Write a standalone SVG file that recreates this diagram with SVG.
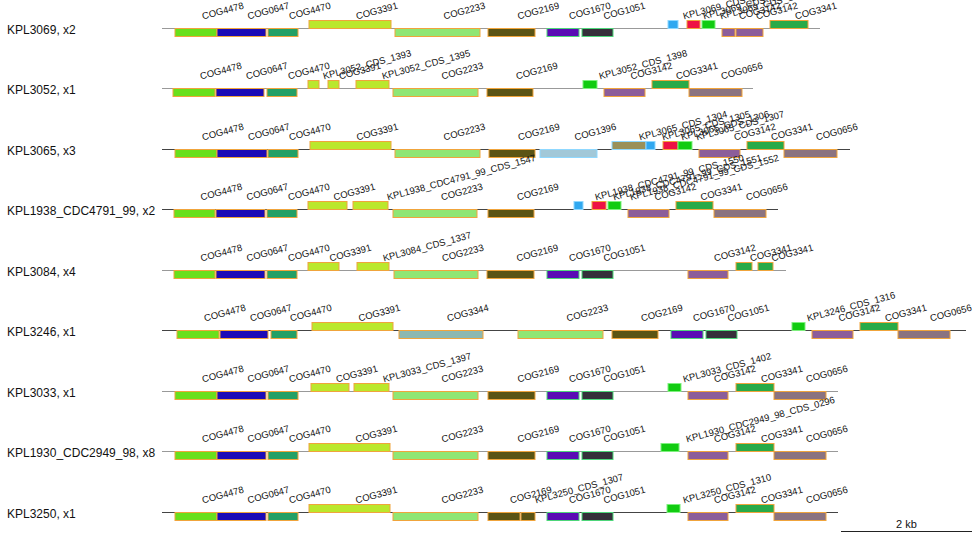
<svg xmlns="http://www.w3.org/2000/svg" width="980" height="540" viewBox="0 0 980 540">
<style>
text{font-family:"Liberation Sans",Arial,sans-serif;fill:#111}
.rl{font-size:12px}
.gl{font-size:9.5px}
.sc{font-size:11px}
rect{stroke-width:1}
.ln{stroke-width:1;fill:none}
.lg{stroke:#999}
.ld{stroke:#444}
.c4478{fill:#68e01c;stroke:#f0a43c}
.c0647{fill:#1b0ab6;stroke:#f0a43c}
.c4470{fill:#22a066;stroke:#f0a43c}
.c3391{fill:#bae82c;stroke:#f0a43c}
.c2233{fill:#8fe674;stroke:#f0a43c}
.c2169{fill:#5b5414;stroke:#f0a43c}
.c1670{fill:#5a0cb4;stroke:#4ed67a}
.c1051{fill:#352f3a;stroke:#4ed67a}
.c3142{fill:#8c5d9a;stroke:#f0a43c}
.c3341{fill:#28aa48;stroke:#f0a43c}
.c0656{fill:#8b7380;stroke:#f0a43c}
.c3344{fill:#8cb8b0;stroke:#f0a43c}
.c1396{fill:#a2c8d8;stroke:#8fd8ff}
.khk{fill:#9a9058;stroke:#8fd8ff}
.blu{fill:#30a8f0;stroke:#8fd8ff}
.red{fill:#ee1144;stroke:#f0a43c}
.grn{fill:#11cc11;stroke:#7ef07e}
</style>

<g id="connectors">
<line class="ln lg" x1="162" y1="28.5" x2="820" y2="28.5"/>
<line class="ln lg" x1="162" y1="88.5" x2="753" y2="88.5"/>
<line class="ln ld" x1="162" y1="149.5" x2="850" y2="149.5"/>
<line class="ln ld" x1="162" y1="209.5" x2="778" y2="209.5"/>
<line class="ln lg" x1="162" y1="270.5" x2="786" y2="270.5"/>
<line class="ln ld" x1="162" y1="330.5" x2="966" y2="330.5"/>
<line class="ln lg" x1="162" y1="391.5" x2="838" y2="391.5"/>
<line class="ln lg" x1="162" y1="451.5" x2="838" y2="451.5"/>
<line class="ln ld" x1="162" y1="512.5" x2="838" y2="512.5"/>
</g>

<g id="row1">
<text class="rl" x="7" y="34">KPL3069, x2</text>
<g id="r1g1"><rect class="c4478" x="175" y="28.5" width="42" height="8"/><text class="gl" x="203" y="19.5" transform="rotate(-15 203 19.5)">COG4478</text></g>
<g id="r1g2"><rect class="c0647" x="217" y="28.5" width="49" height="8"/><text class="gl" x="248.5" y="19.5" transform="rotate(-15 248.5 19.5)">COG0647</text></g>
<g id="r1g3"><rect class="c4470" x="268" y="28.5" width="30" height="8"/><text class="gl" x="290" y="19.5" transform="rotate(-15 290 19.5)">COG4470</text></g>
<g id="r1g4"><rect class="c3391" x="309" y="20.5" width="82" height="8"/><text class="gl" x="357" y="19.5" transform="rotate(-15 357 19.5)">COG3391</text></g>
<g id="r1g5"><rect class="c2233" x="395" y="28.5" width="85" height="8"/><text class="gl" x="444.5" y="19.5" transform="rotate(-15 444.5 19.5)">COG2233</text></g>
<g id="r1g6"><rect class="c2169" x="488" y="28.5" width="47" height="8"/><text class="gl" x="518.5" y="19.5" transform="rotate(-15 518.5 19.5)">COG2169</text></g>
<g id="r1g7"><rect class="c1670" x="547" y="28.5" width="32" height="8"/><text class="gl" x="570" y="19.5" transform="rotate(-15 570 19.5)">COG1670</text></g>
<g id="r1g8"><rect class="c1051" x="582" y="28.5" width="31" height="8"/><text class="gl" x="604.5" y="19.5" transform="rotate(-15 604.5 19.5)">COG1051</text></g>
<g id="r1g9"><rect class="blu" x="668" y="20.5" width="10" height="8"/><text class="gl" x="684" y="19.5" transform="rotate(-15 684 19.5)">KPL3069_CDS_1325</text></g>
<g id="r1g10"><rect class="red" x="687" y="20.5" width="13" height="8"/><text class="gl" x="704" y="19.5" transform="rotate(-15 704 19.5)">KPL3069_CDS_1326</text></g>
<g id="r1g11"><rect class="grn" x="702" y="20.5" width="13" height="8"/><text class="gl" x="721" y="19.5" transform="rotate(-15 721 19.5)">KPL3069_CDS_1327</text></g>
<g id="r1g12"><rect class="c3142" x="722" y="28.5" width="13" height="8"/><text class="gl" x="740" y="19.5" transform="rotate(-15 740 19.5)">COG3142</text></g>
<g id="r1g13"><rect class="c3142" x="736" y="28.5" width="27" height="8"/><text class="gl" x="757" y="19.5" transform="rotate(-15 757 19.5)">COG3142</text></g>
<g id="r1g14"><rect class="c3341" x="770" y="20.5" width="38" height="8"/><text class="gl" x="796" y="19.5" transform="rotate(-15 796 19.5)">COG3341</text></g>
</g>

<g id="row2">
<text class="rl" x="7" y="94">KPL3052, x1</text>
<g id="r2g1"><rect class="c4478" x="173" y="88.5" width="42" height="8"/><text class="gl" x="201" y="79.5" transform="rotate(-15 201 79.5)">COG4478</text></g>
<g id="r2g2"><rect class="c0647" x="216" y="88.5" width="48" height="8"/><text class="gl" x="247" y="79.5" transform="rotate(-15 247 79.5)">COG0647</text></g>
<g id="r2g3"><rect class="c4470" x="267" y="88.5" width="30" height="8"/><text class="gl" x="289" y="79.5" transform="rotate(-15 289 79.5)">COG4470</text></g>
<g id="r2g4"><rect class="c3391" x="308" y="80.5" width="11" height="8"/><text class="gl" x="324" y="79.5" transform="rotate(-15 324 79.5)">KPL3052_CDS_1393</text></g>
<g id="r2g5"><rect class="c3391" x="328" y="80.5" width="11" height="8"/><text class="gl" x="340" y="79.5" transform="rotate(-15 340 79.5)">COG3391</text></g>
<g id="r2g6"><rect class="c3391" x="356" y="80.5" width="33" height="8"/><text class="gl" x="383" y="79.5" transform="rotate(-15 383 79.5)">KPL3052_CDS_1395</text></g>
<g id="r2g7"><rect class="c2233" x="393" y="88.5" width="85" height="8"/><text class="gl" x="442.5" y="79.5" transform="rotate(-15 442.5 79.5)">COG2233</text></g>
<g id="r2g8"><rect class="c2169" x="487" y="88.5" width="46" height="8"/><text class="gl" x="517" y="79.5" transform="rotate(-15 517 79.5)">COG2169</text></g>
<g id="r2g9"><rect class="grn" x="583" y="80.5" width="14" height="8"/><text class="gl" x="600" y="79.5" transform="rotate(-15 600 79.5)">KPL3052_CDS_1398</text></g>
<g id="r2g10"><rect class="c3142" x="604" y="88.5" width="41" height="8"/><text class="gl" x="631.5" y="79.5" transform="rotate(-15 631.5 79.5)">COG3142</text></g>
<g id="r2g11"><rect class="c3341" x="652" y="80.5" width="37" height="8"/><text class="gl" x="677" y="79.5" transform="rotate(-15 677 79.5)">COG3341</text></g>
<g id="r2g12"><rect class="c0656" x="689" y="88.5" width="53" height="8"/><text class="gl" x="722" y="79.5" transform="rotate(-15 722 79.5)">COG0656</text></g>
</g>

<g id="row3">
<text class="rl" x="7" y="155">KPL3065, x3</text>
<g id="r3g1"><rect class="c4478" x="175" y="149.5" width="42" height="8"/><text class="gl" x="203" y="140.5" transform="rotate(-15 203 140.5)">COG4478</text></g>
<g id="r3g2"><rect class="c0647" x="217" y="149.5" width="50" height="8"/><text class="gl" x="249" y="140.5" transform="rotate(-15 249 140.5)">COG0647</text></g>
<g id="r3g3"><rect class="c4470" x="268" y="149.5" width="30" height="8"/><text class="gl" x="290" y="140.5" transform="rotate(-15 290 140.5)">COG4470</text></g>
<g id="r3g4"><rect class="c3391" x="310" y="141.5" width="81" height="8"/><text class="gl" x="357.5" y="140.5" transform="rotate(-15 357.5 140.5)">COG3391</text></g>
<g id="r3g5"><rect class="c2233" x="395" y="149.5" width="85" height="8"/><text class="gl" x="444.5" y="140.5" transform="rotate(-15 444.5 140.5)">COG2233</text></g>
<g id="r3g6"><rect class="c2169" x="489" y="149.5" width="46" height="8"/><text class="gl" x="519" y="140.5" transform="rotate(-15 519 140.5)">COG2169</text></g>
<g id="r3g7"><rect class="c1396" x="540" y="149.5" width="57" height="8"/><text class="gl" x="575.5" y="140.5" transform="rotate(-15 575.5 140.5)">COG1396</text></g>
<g id="r3g8"><rect class="khk" x="612" y="141.5" width="34" height="8"/><text class="gl" x="640" y="140.5" transform="rotate(-15 640 140.5)">KPL3065_CDS_1304</text></g>
<g id="r3g9"><rect class="blu" x="646" y="141.5" width="9" height="8"/><text class="gl" x="663" y="140.5" transform="rotate(-15 663 140.5)">KPL3065_CDS_1305</text></g>
<g id="r3g10"><rect class="red" x="663" y="141.5" width="15" height="8"/><text class="gl" x="682" y="140.5" transform="rotate(-15 682 140.5)">KPL3065_CDS_1306</text></g>
<g id="r3g11"><rect class="grn" x="678" y="141.5" width="14" height="8"/><text class="gl" x="697" y="140.5" transform="rotate(-15 697 140.5)">KPL3065_CDS_1307</text></g>
<g id="r3g12"><rect class="c3142" x="699" y="149.5" width="41" height="8"/><text class="gl" x="735" y="140.5" transform="rotate(-15 735 140.5)">COG3142</text></g>
<g id="r3g13"><rect class="c3341" x="747" y="141.5" width="37" height="8"/><text class="gl" x="772" y="140.5" transform="rotate(-15 772 140.5)">COG3341</text></g>
<g id="r3g14"><rect class="c0656" x="784" y="149.5" width="53" height="8"/><text class="gl" x="817" y="140.5" transform="rotate(-15 817 140.5)">COG0656</text></g>
</g>

<g id="row4">
<text class="rl" x="7" y="215">KPL1938_CDC4791_99, x2</text>
<g id="r4g1"><rect class="c4478" x="174" y="209.5" width="41" height="8"/><text class="gl" x="201.5" y="200.5" transform="rotate(-15 201.5 200.5)">COG4478</text></g>
<g id="r4g2"><rect class="c0647" x="216" y="209.5" width="49" height="8"/><text class="gl" x="247.5" y="200.5" transform="rotate(-15 247.5 200.5)">COG0647</text></g>
<g id="r4g3"><rect class="c4470" x="267" y="209.5" width="30" height="8"/><text class="gl" x="289" y="200.5" transform="rotate(-15 289 200.5)">COG4470</text></g>
<g id="r4g4"><rect class="c3391" x="308" y="201.5" width="39" height="8"/><text class="gl" x="334.5" y="200.5" transform="rotate(-15 334.5 200.5)">COG3391</text></g>
<g id="r4g5"><rect class="c3391" x="353" y="201.5" width="35" height="8"/><text class="gl" x="388" y="200.5" transform="rotate(-15 388 200.5)">KPL1938_CDC4791_99_CDS_1547</text></g>
<g id="r4g6"><rect class="c2233" x="393" y="209.5" width="84" height="8"/><text class="gl" x="442" y="200.5" transform="rotate(-15 442 200.5)">COG2233</text></g>
<g id="r4g7"><rect class="c2169" x="488" y="209.5" width="46" height="8"/><text class="gl" x="518" y="200.5" transform="rotate(-15 518 200.5)">COG2169</text></g>
<g id="r4g8"><rect class="blu" x="574" y="201.5" width="9" height="8"/><text class="gl" x="596" y="200.5" transform="rotate(-15 596 200.5)">KPL1938_CDC4791_99_CDS_1550</text></g>
<g id="r4g9"><rect class="red" x="592" y="201.5" width="14" height="8"/><text class="gl" x="614" y="200.5" transform="rotate(-15 614 200.5)">KPL1938_CDC4791_99_CDS_1551</text></g>
<g id="r4g10"><rect class="grn" x="608" y="201.5" width="13" height="8"/><text class="gl" x="631" y="200.5" transform="rotate(-15 631 200.5)">KPL1938_CDC4791_99_CDS_1552</text></g>
<g id="r4g11"><rect class="c3142" x="628" y="209.5" width="41" height="8"/><text class="gl" x="655.5" y="200.5" transform="rotate(-15 655.5 200.5)">COG3142</text></g>
<g id="r4g12"><rect class="c3341" x="676" y="201.5" width="37" height="8"/><text class="gl" x="701.5" y="200.5" transform="rotate(-15 701.5 200.5)">COG3341</text></g>
<g id="r4g13"><rect class="c0656" x="714" y="209.5" width="52" height="8"/><text class="gl" x="747" y="200.5" transform="rotate(-15 747 200.5)">COG0656</text></g>
</g>

<g id="row5">
<text class="rl" x="7" y="276">KPL3084, x4</text>
<g id="r5g1"><rect class="c4478" x="174" y="270.5" width="41" height="8"/><text class="gl" x="201.5" y="261.5" transform="rotate(-15 201.5 261.5)">COG4478</text></g>
<g id="r5g2"><rect class="c0647" x="216" y="270.5" width="49" height="8"/><text class="gl" x="247.5" y="261.5" transform="rotate(-15 247.5 261.5)">COG0647</text></g>
<g id="r5g3"><rect class="c4470" x="267" y="270.5" width="30" height="8"/><text class="gl" x="289" y="261.5" transform="rotate(-15 289 261.5)">COG4470</text></g>
<g id="r5g4"><rect class="c3391" x="308" y="262.5" width="31" height="8"/><text class="gl" x="330.5" y="261.5" transform="rotate(-15 330.5 261.5)">COG3391</text></g>
<g id="r5g5"><rect class="c3391" x="357" y="262.5" width="32" height="8"/><text class="gl" x="384" y="261.5" transform="rotate(-15 384 261.5)">KPL3084_CDS_1337</text></g>
<g id="r5g6"><rect class="c2233" x="394" y="270.5" width="84" height="8"/><text class="gl" x="443" y="261.5" transform="rotate(-15 443 261.5)">COG2233</text></g>
<g id="r5g7"><rect class="c2169" x="487" y="270.5" width="47" height="8"/><text class="gl" x="517.5" y="261.5" transform="rotate(-15 517.5 261.5)">COG2169</text></g>
<g id="r5g8"><rect class="c1670" x="547" y="270.5" width="32" height="8"/><text class="gl" x="570" y="261.5" transform="rotate(-15 570 261.5)">COG1670</text></g>
<g id="r5g9"><rect class="c1051" x="582" y="270.5" width="31" height="8"/><text class="gl" x="604.5" y="261.5" transform="rotate(-15 604.5 261.5)">COG1051</text></g>
<g id="r5g10"><rect class="c3142" x="688" y="270.5" width="40" height="8"/><text class="gl" x="715" y="261.5" transform="rotate(-15 715 261.5)">COG3142</text></g>
<g id="r5g11"><rect class="c3341" x="736" y="262.5" width="16" height="8"/><text class="gl" x="751" y="261.5" transform="rotate(-15 751 261.5)">COG3341</text></g>
<g id="r5g12"><rect class="c3341" x="758" y="262.5" width="15" height="8"/><text class="gl" x="772.5" y="261.5" transform="rotate(-15 772.5 261.5)">COG3341</text></g>
</g>

<g id="row6">
<text class="rl" x="7" y="336">KPL3246, x1</text>
<g id="r6g1"><rect class="c4478" x="177" y="330.5" width="42" height="8"/><text class="gl" x="205" y="321.5" transform="rotate(-15 205 321.5)">COG4478</text></g>
<g id="r6g2"><rect class="c0647" x="220" y="330.5" width="48" height="8"/><text class="gl" x="251" y="321.5" transform="rotate(-15 251 321.5)">COG0647</text></g>
<g id="r6g3"><rect class="c4470" x="271" y="330.5" width="26" height="8"/><text class="gl" x="291" y="321.5" transform="rotate(-15 291 321.5)">COG4470</text></g>
<g id="r6g4"><rect class="c3391" x="312" y="322.5" width="81" height="8"/><text class="gl" x="359.5" y="321.5" transform="rotate(-15 359.5 321.5)">COG3391</text></g>
<g id="r6g5"><rect class="c3344" x="399" y="330.5" width="84" height="8"/><text class="gl" x="448" y="321.5" transform="rotate(-15 448 321.5)">COG3344</text></g>
<g id="r6g6"><rect class="c2233" x="518" y="330.5" width="85" height="8"/><text class="gl" x="567.5" y="321.5" transform="rotate(-15 567.5 321.5)">COG2233</text></g>
<g id="r6g7"><rect class="c2169" x="612" y="330.5" width="46" height="8"/><text class="gl" x="642" y="321.5" transform="rotate(-15 642 321.5)">COG2169</text></g>
<g id="r6g8"><rect class="c1670" x="671" y="330.5" width="32" height="8"/><text class="gl" x="694" y="321.5" transform="rotate(-15 694 321.5)">COG1670</text></g>
<g id="r6g9"><rect class="c1051" x="706" y="330.5" width="31" height="8"/><text class="gl" x="728.5" y="321.5" transform="rotate(-15 728.5 321.5)">COG1051</text></g>
<g id="r6g10"><rect class="grn" x="792" y="322.5" width="13" height="8"/><text class="gl" x="808" y="321.5" transform="rotate(-15 808 321.5)">KPL3246_CDS_1316</text></g>
<g id="r6g11"><rect class="c3142" x="812" y="330.5" width="41" height="8"/><text class="gl" x="839.5" y="321.5" transform="rotate(-15 839.5 321.5)">COG3142</text></g>
<g id="r6g12"><rect class="c3341" x="860" y="322.5" width="38" height="8"/><text class="gl" x="886" y="321.5" transform="rotate(-15 886 321.5)">COG3341</text></g>
<g id="r6g13"><rect class="c0656" x="898" y="330.5" width="52" height="8"/><text class="gl" x="931" y="321.5" transform="rotate(-15 931 321.5)">COG0656</text></g>
</g>

<g id="row7">
<text class="rl" x="7" y="397">KPL3033, x1</text>
<g id="r7g1"><rect class="c4478" x="175" y="391.5" width="42" height="8"/><text class="gl" x="203" y="382.5" transform="rotate(-15 203 382.5)">COG4478</text></g>
<g id="r7g2"><rect class="c0647" x="217" y="391.5" width="49" height="8"/><text class="gl" x="248.5" y="382.5" transform="rotate(-15 248.5 382.5)">COG0647</text></g>
<g id="r7g3"><rect class="c4470" x="268" y="391.5" width="30" height="8"/><text class="gl" x="290" y="382.5" transform="rotate(-15 290 382.5)">COG4470</text></g>
<g id="r7g4"><rect class="c3391" x="311" y="383.5" width="38" height="8"/><text class="gl" x="337" y="382.5" transform="rotate(-15 337 382.5)">COG3391</text></g>
<g id="r7g5"><rect class="c3391" x="354" y="383.5" width="35" height="8"/><text class="gl" x="384" y="382.5" transform="rotate(-15 384 382.5)">KPL3033_CDS_1397</text></g>
<g id="r7g6"><rect class="c2233" x="393" y="391.5" width="85" height="8"/><text class="gl" x="442.5" y="382.5" transform="rotate(-15 442.5 382.5)">COG2233</text></g>
<g id="r7g7"><rect class="c2169" x="488" y="391.5" width="47" height="8"/><text class="gl" x="518.5" y="382.5" transform="rotate(-15 518.5 382.5)">COG2169</text></g>
<g id="r7g8"><rect class="c1670" x="547" y="391.5" width="32" height="8"/><text class="gl" x="570" y="382.5" transform="rotate(-15 570 382.5)">COG1670</text></g>
<g id="r7g9"><rect class="c1051" x="582" y="391.5" width="31" height="8"/><text class="gl" x="604.5" y="382.5" transform="rotate(-15 604.5 382.5)">COG1051</text></g>
<g id="r7g10"><rect class="grn" x="668" y="383.5" width="13" height="8"/><text class="gl" x="684" y="382.5" transform="rotate(-15 684 382.5)">KPL3033_CDS_1402</text></g>
<g id="r7g11"><rect class="c3142" x="688" y="391.5" width="40" height="8"/><text class="gl" x="715" y="382.5" transform="rotate(-15 715 382.5)">COG3142</text></g>
<g id="r7g12"><rect class="c3341" x="736" y="383.5" width="38" height="8"/><text class="gl" x="762" y="382.5" transform="rotate(-15 762 382.5)">COG3341</text></g>
<g id="r7g13"><rect class="c0656" x="774" y="391.5" width="52" height="8"/><text class="gl" x="807" y="382.5" transform="rotate(-15 807 382.5)">COG0656</text></g>
</g>

<g id="row8">
<text class="rl" x="7" y="457">KPL1930_CDC2949_98, x8</text>
<g id="r8g1"><rect class="c4478" x="175" y="451.5" width="42" height="8"/><text class="gl" x="203" y="442.5" transform="rotate(-15 203 442.5)">COG4478</text></g>
<g id="r8g2"><rect class="c0647" x="217" y="451.5" width="49" height="8"/><text class="gl" x="248.5" y="442.5" transform="rotate(-15 248.5 442.5)">COG0647</text></g>
<g id="r8g3"><rect class="c4470" x="268" y="451.5" width="30" height="8"/><text class="gl" x="290" y="442.5" transform="rotate(-15 290 442.5)">COG4470</text></g>
<g id="r8g4"><rect class="c3391" x="309" y="443.5" width="81" height="8"/><text class="gl" x="356.5" y="442.5" transform="rotate(-15 356.5 442.5)">COG3391</text></g>
<g id="r8g5"><rect class="c2233" x="393" y="451.5" width="85" height="8"/><text class="gl" x="442.5" y="442.5" transform="rotate(-15 442.5 442.5)">COG2233</text></g>
<g id="r8g6"><rect class="c2169" x="488" y="451.5" width="47" height="8"/><text class="gl" x="518.5" y="442.5" transform="rotate(-15 518.5 442.5)">COG2169</text></g>
<g id="r8g7"><rect class="c1670" x="547" y="451.5" width="32" height="8"/><text class="gl" x="570" y="442.5" transform="rotate(-15 570 442.5)">COG1670</text></g>
<g id="r8g8"><rect class="c1051" x="582" y="451.5" width="31" height="8"/><text class="gl" x="604.5" y="442.5" transform="rotate(-15 604.5 442.5)">COG1051</text></g>
<g id="r8g9"><rect class="grn" x="661" y="443.5" width="18" height="8"/><text class="gl" x="687" y="442.5" transform="rotate(-15 687 442.5)">KPL1930_CDC2949_98_CDS_0296</text></g>
<g id="r8g10"><rect class="c3142" x="688" y="451.5" width="40" height="8"/><text class="gl" x="715" y="442.5" transform="rotate(-15 715 442.5)">COG3142</text></g>
<g id="r8g11"><rect class="c3341" x="736" y="443.5" width="38" height="8"/><text class="gl" x="762" y="442.5" transform="rotate(-15 762 442.5)">COG3341</text></g>
<g id="r8g12"><rect class="c0656" x="774" y="451.5" width="52" height="8"/><text class="gl" x="807" y="442.5" transform="rotate(-15 807 442.5)">COG0656</text></g>
</g>

<g id="row9">
<text class="rl" x="7" y="518">KPL3250, x1</text>
<g id="r9g1"><rect class="c4478" x="175" y="512.5" width="42" height="8"/><text class="gl" x="203" y="503.5" transform="rotate(-15 203 503.5)">COG4478</text></g>
<g id="r9g2"><rect class="c0647" x="217" y="512.5" width="49" height="8"/><text class="gl" x="248.5" y="503.5" transform="rotate(-15 248.5 503.5)">COG0647</text></g>
<g id="r9g3"><rect class="c4470" x="268" y="512.5" width="30" height="8"/><text class="gl" x="290" y="503.5" transform="rotate(-15 290 503.5)">COG4470</text></g>
<g id="r9g4"><rect class="c3391" x="309" y="504.5" width="81" height="8"/><text class="gl" x="356.5" y="503.5" transform="rotate(-15 356.5 503.5)">COG3391</text></g>
<g id="r9g5"><rect class="c2233" x="393" y="512.5" width="85" height="8"/><text class="gl" x="442.5" y="503.5" transform="rotate(-15 442.5 503.5)">COG2233</text></g>
<g id="r9g6"><rect class="c2169" x="488" y="512.5" width="32" height="8"/><text class="gl" x="511" y="503.5" transform="rotate(-15 511 503.5)">COG2169</text></g>
<g id="r9g7"><rect class="c2169" x="521" y="512.5" width="14" height="8"/><text class="gl" x="536" y="503.5" transform="rotate(-15 536 503.5)">KPL3250_CDS_1307</text></g>
<g id="r9g8"><rect class="c1670" x="547" y="512.5" width="32" height="8"/><text class="gl" x="570" y="503.5" transform="rotate(-15 570 503.5)">COG1670</text></g>
<g id="r9g9"><rect class="c1051" x="582" y="512.5" width="31" height="8"/><text class="gl" x="604.5" y="503.5" transform="rotate(-15 604.5 503.5)">COG1051</text></g>
<g id="r9g10"><rect class="grn" x="667" y="504.5" width="13" height="8"/><text class="gl" x="684" y="503.5" transform="rotate(-15 684 503.5)">KPL3250_CDS_1310</text></g>
<g id="r9g11"><rect class="c3142" x="688" y="512.5" width="40" height="8"/><text class="gl" x="715" y="503.5" transform="rotate(-15 715 503.5)">COG3142</text></g>
<g id="r9g12"><rect class="c3341" x="736" y="504.5" width="38" height="8"/><text class="gl" x="762" y="503.5" transform="rotate(-15 762 503.5)">COG3341</text></g>
<g id="r9g13"><rect class="c0656" x="774" y="512.5" width="52" height="8"/><text class="gl" x="807" y="503.5" transform="rotate(-15 807 503.5)">COG0656</text></g>
</g>

<g id="scalebar">
<line x1="841" y1="531.5" x2="972" y2="531.5" stroke="#222" stroke-width="1"/>
<text class="sc" x="906.5" y="528" text-anchor="middle">2 kb</text>
</g>
</svg>
